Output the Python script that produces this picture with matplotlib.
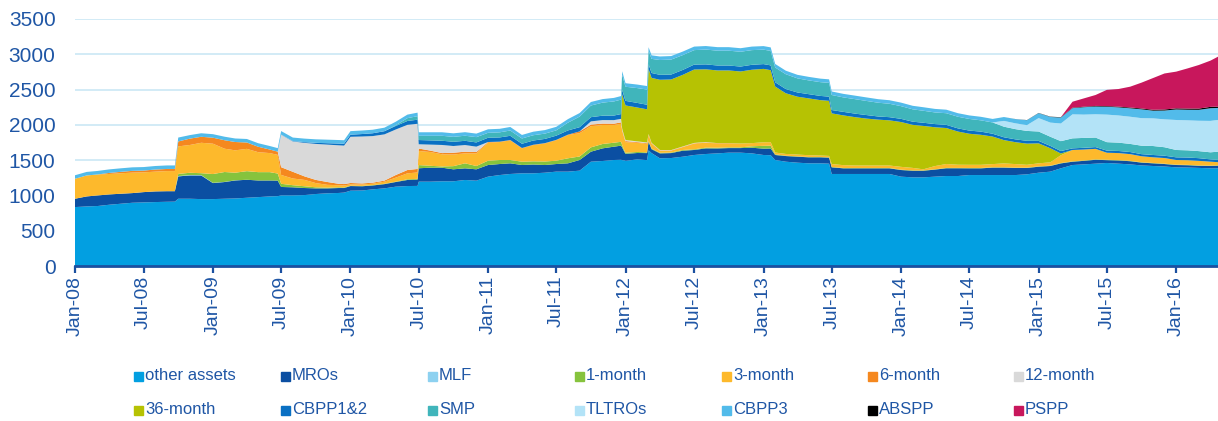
import matplotlib
matplotlib.use('Agg')
import matplotlib.pyplot as plt
from matplotlib.patches import Rectangle
import pandas as pd

plt.rcParams['font.family'] = ['Liberation Sans', 'DejaVu Sans']

# dates of the readings (month starts plus a few points around the big jumps)
dates = pd.to_datetime([
    '2008-01-01', '2008-02-01', '2008-03-01', '2008-04-01', '2008-05-01', '2008-06-01', '2008-07-01',
    '2008-08-01', '2008-09-01', '2008-09-22', '2008-10-01', '2008-11-01', '2008-12-01',
    '2009-01-01', '2009-02-01', '2009-03-01', '2009-04-01', '2009-05-01', '2009-06-01', '2009-06-22',
    '2009-07-01', '2009-08-01', '2009-09-01', '2009-10-01', '2009-11-01', '2009-12-01', '2009-12-15',
    '2010-01-01', '2010-02-01', '2010-03-01', '2010-04-01', '2010-05-01', '2010-06-01', '2010-06-28',
    '2010-07-01', '2010-08-01', '2010-09-01', '2010-10-01', '2010-11-01', '2010-12-01',
    '2011-01-01', '2011-02-01', '2011-03-01', '2011-04-01', '2011-05-01', '2011-06-01', '2011-07-01',
    '2011-08-01', '2011-09-01', '2011-10-01', '2011-11-01', '2011-12-01', '2011-12-20', '2011-12-23',
    '2011-12-30',
    '2012-01-01', '2012-02-01', '2012-02-27', '2012-03-02', '2012-03-10', '2012-04-01', '2012-05-01',
    '2012-06-01', '2012-07-01', '2012-08-01', '2012-09-01', '2012-10-01', '2012-11-01', '2012-12-01',
    '2013-01-01', '2013-01-20', '2013-02-01', '2013-03-01', '2013-04-01', '2013-05-01', '2013-06-01',
    '2013-06-24', '2013-07-01', '2013-08-01', '2013-09-01', '2013-10-01', '2013-11-01', '2013-12-01',
    '2014-01-01', '2014-02-01', '2014-03-01', '2014-04-01', '2014-05-01', '2014-06-01', '2014-07-01',
    '2014-08-01', '2014-09-01', '2014-10-01', '2014-11-01', '2014-12-01',
    '2015-01-01', '2015-02-01', '2015-03-01', '2015-04-01', '2015-05-01', '2015-06-01', '2015-07-01',
    '2015-08-01', '2015-09-01', '2015-10-01', '2015-11-01', '2015-12-01',
    '2016-01-01', '2016-02-01', '2016-03-01', '2016-04-01', '2016-04-21',
])

other_assets = ([835, 844, 850, 868, 882, 896, 901, 906, 910, 912, 953, 953, 948]
                + [948, 953, 957, 967, 976, 986, 990, 1000, 1000, 1005, 1020, 1030, 1035, 1040]
                + [1067, 1070, 1086, 1100, 1124, 1133, 1135, 1195, 1195, 1200, 1200, 1219, 1209]
                + [1266, 1289, 1304, 1313, 1313, 1322, 1337, 1337, 1351, 1478, 1488, 1502, 1505, 1500, 1495]
                + [1490, 1511, 1500, 1640, 1600, 1526, 1530, 1549, 1573, 1587, 1596, 1606, 1606, 1596]
                + [1573, 1570, 1502, 1478, 1464, 1455, 1455, 1450, 1304, 1304, 1304, 1304, 1304, 1304]
                + [1266, 1256, 1256, 1266, 1275, 1275, 1289, 1289, 1289, 1289, 1289, 1299]
                + [1322, 1337, 1384, 1431, 1440, 1450, 1460, 1450, 1440, 1425, 1417, 1410]
                + [1398, 1395, 1390, 1384, 1384])
mros = ([118, 142, 150, 146, 142, 137, 146, 151, 150, 148, 317, 330, 335]
        + [227, 237, 255, 255, 236, 226, 220, 120, 115, 100, 80, 70, 70, 65]
        + [66, 60, 55, 60, 66, 86, 90, 190, 198, 193, 170, 165, 161]
        + [165, 156, 151, 118, 125, 109, 108, 118, 151, 142, 179, 189, 200, 180, 110]
        + [100, 90, 100, 120, 55, 70, 70, 85, 71, 80, 70, 65, 65, 80]
        + [90, 95, 71, 80, 85, 85, 85, 85, 94, 80, 80, 80, 80, 80]
        + [94, 94, 94, 100, 110, 110, 95, 95, 105, 105, 100, 90]
        + [85, 80, 70, 47, 50, 55, 40, 45, 45, 40, 38, 35]
        + [33, 33, 30, 33, 37])
mlf = [0] * 10 + [5, 5, 5, 3, 2, 2] + [0] * 96
one_month = ([0] * 10 + [30, 33, 27]
             + [125, 140, 108, 122, 118, 118, 100, 45, 30, 25, 15, 10, 10, 8]
             + [5, 5, 5, 5, 5, 10, 10, 45, 27, 17, 45, 71, 47]
             + [61, 57, 47, 47, 45, 50, 47, 71, 50, 61, 62, 56, 55, 30, 18]
             + [15, 15, 10, 10, 10, 8, 8, 10, 10, 10, 10, 10, 10, 20]
             + [40, 40, 10, 5, 5, 5, 5, 5, 5, 5, 5, 5, 5, 5]
             + [5] * 12 + [5] * 12 + [5] * 5)
three_month = ([283, 297, 297, 290, 290, 290, 280, 280, 285, 285, 390, 394, 431]
               + [430, 330, 317, 316, 283, 270, 265, 125, 95, 90, 60, 40, 30, 28]
               + [20, 20, 20, 30, 57, 84, 90, 200, 195, 173, 165, 141, 179]
               + [255, 255, 278, 189, 230, 255, 290, 330, 330, 300, 269, 250, 255, 200, 160]
               + [150, 130, 120, 90, 70, 30, 25, 40, 80, 70, 60, 55, 55, 45]
               + [50, 50, 25, 25, 25, 25, 20, 20, 42, 40, 35, 35, 35, 35]
               + [40, 35, 15, 45, 55, 45, 45, 45, 45, 55, 50, 40]
               + [43, 47, 110, 161, 155, 150, 100, 100, 95, 85, 80, 80]
               + [66, 66, 65, 56, 45])
six_month = ([0, 0, 0, 15, 20, 25, 25, 30, 30, 30, 70, 90, 85]
             + [85, 120, 118, 90, 77, 50, 45, 110, 95, 50, 45, 40, 20, 20]
             + [18, 15, 15, 15, 37, 47, 50, 35, 20, 17, 25, 24, 19]
             + [10, 5, 5, 5, 5, 5, 5, 5, 25, 23, 20, 20, 20, 15, 15]
             + [15, 10, 10, 5, 5, 5, 5, 5, 5, 5, 5, 5, 0, 0]
             + [0] * 43)
twelve_month = ([0] * 13
                + [0] * 7 + [460, 430, 475, 510, 530, 545, 545]
                + [655, 665, 660, 655, 645, 640, 640, 60, 85, 115, 95, 94, 76]
                + [0] * 9 + [45, 50, 50, 50, 20, 15]
                + [15, 10, 10, 5, 5, 5, 5, 5, 5, 5, 0, 0, 0, 0]
                + [0] * 43)
m36 = ([0] * 40
       + [0] * 13 + [490, 490]
       + [490, 480, 470, 920, 920, 995, 1000, 1015, 1040, 1030, 1030, 1030, 1020, 1040]
       + [1040, 1020, 935, 860, 820, 805, 785, 780, 718, 705, 685, 665, 650, 640]
       + [635, 610, 615, 550, 510, 470, 440, 425, 390, 330, 310, 300]
       + [283, 200, 25] + [0] * 9
       + [0] * 5)
cbpp12 = ([0] * 13
          + [0] * 7 + [2, 5, 10, 15, 20, 25, 26]
          + [30, 35, 40, 45, 50, 55, 58, 60, 60, 60, 60, 60, 60]
          + [60, 60, 60, 60, 60, 60, 60, 60, 60, 60, 62, 65, 68, 65, 65]
          + [65, 65, 65, 70, 70, 70, 70, 70, 70, 70, 70, 70, 70, 70]
          + [68, 68, 60, 60, 60, 60, 60, 60, 47, 50, 50, 50, 45, 45]
          + [45, 45, 45, 45, 45, 45, 45, 45, 40, 40, 40, 40]
          + [35, 33, 35, 23, 25, 25, 30, 30, 30, 30, 33, 33]
          + [38, 38, 38, 33, 33])
smp = ([0] * 27
       + [0, 0, 0, 0, 10, 40, 50, 60, 65, 70, 70, 72, 75]
       + [70, 72, 75, 75, 75, 75, 75, 110, 150, 165, 185, 200, 205, 210, 205]
       + [200, 210, 215, 190, 200, 210, 212, 210, 205, 210, 210, 210, 210, 208]
       + [205, 205, 210, 210, 200, 195, 195, 195, 213, 205, 205, 200, 195, 190]
       + [180, 175, 170, 165, 165, 165, 165, 160, 160, 150, 145, 140]
       + [133, 130, 140, 142, 140, 135, 120, 118, 115, 120, 127, 120]
       + [104, 102, 100, 100, 116])
tltro = ([0] * 83
         + [0] * 9 + [82, 82, 82]
         + [190, 200, 250, 340, 330, 330, 390, 385, 385, 390, 392, 395]
         + [425, 425, 430, 445, 450])
cbpp3 = ([50] * 10 + [55] + [50] * 81
         + [55, 60, 70]
         + [70, 80, 85, 88, 105, 110, 112, 115, 120, 125, 109, 125]
         + [149, 150, 155, 180, 170])
abspp = ([0] * 93 + [1, 2]
         + [3, 4, 5, 6, 7, 8, 9, 10, 11, 12, 13, 15]
         + [16, 17, 18, 19, 19])
pspp = ([0] * 98
        + [85, 118, 155, 230, 250, 295, 366, 450, 510]
        + [520, 570, 617, 655, 707])

labels = ['other assets', 'MROs', 'MLF', '1-month', '3-month', '6-month', '12-month',
          '36-month', 'CBPP1&2', 'SMP', 'TLTROs', 'CBPP3', 'ABSPP', 'PSPP']
colors = ['#029fe1', '#0b4fa2', '#8dd1f0', '#86c33d', '#fdb92c', '#f5881f', '#d9d9d9',
          '#b6c203', '#0a70c3', '#40b5bb', '#b3e3f7', '#52bbea', '#000000', '#c8175c']
series = [other_assets, mros, mlf, one_month, three_month, six_month, twelve_month,
          m36, cbpp12, smp, tltro, cbpp3, abspp, pspp]

W, H = 1218, 421
TEXT = '#1f56a5'

fig = plt.figure(figsize=(W / 100, H / 100), dpi=100)
ax = fig.add_axes([75 / W, 155 / H, 1143 / W, 247 / H])

ax.stackplot(dates, *series, colors=colors, linewidth=0)

ax.set_ylim(0, 3500)
ax.set_xlim(dates[0], dates[-1])
ax.set_yticks(range(0, 3501, 500))
ax.grid(axis='y', color='#cbe8f5', lw=1.2)
ax.set_axisbelow(True)

ticks = pd.date_range('2008-01-01', '2016-01-01', freq='6MS')
ax.set_xticks(ticks)
ax.set_xticklabels([d.strftime('%b-%y') for d in ticks], rotation=90)

for s in ['left', 'right', 'top']:
    ax.spines[s].set_visible(False)
ax.spines['bottom'].set_color('#1b50a0')
ax.spines['bottom'].set_linewidth(2)
ax.tick_params(axis='y', length=0, pad=14, labelsize=15, labelcolor=TEXT)
ax.tick_params(axis='x', length=5, width=1.6, color='#1b50a0', pad=2,
               labelsize=14, labelcolor=TEXT)

# legend, 2 rows x 7 columns
leg_x = [134, 281, 428, 575, 722, 868, 1014]
leg_y = [376, 410]
for i, (lab, col) in enumerate(zip(labels, colors)):
    r, c = divmod(i, 7)
    x0, yc = leg_x[c], leg_y[r]
    fig.patches.append(Rectangle((x0 / W, 1 - (yc + 4.5) / H), 9 / W, 9 / H,
                                 transform=fig.transFigure, color=col))
    fig.text((x0 + 11) / W, 1 - yc / H, lab, va='center', ha='left',
             fontsize=12, color=TEXT)

fig.savefig('out.png', dpi=100)
